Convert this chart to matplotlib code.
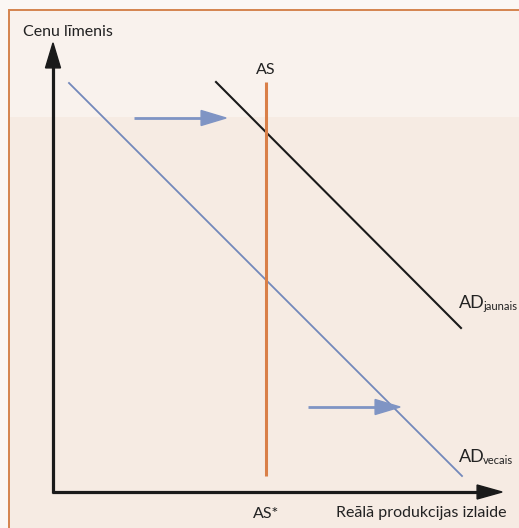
import matplotlib.pyplot as plt
from matplotlib.patches import Rectangle, FancyArrow

plt.rcParams['font.family'] = ['Lato', 'DejaVu Sans']

# curve endpoints (pixel-like coordinates, y grows downward)
ad_old_x = [69, 462]
ad_old_y = [83, 476]
ad_new_x = [216, 461]
ad_new_y = [82, 328]
as_x = [266, 266]
as_y = [82, 476]

# shift arrows: start x, end x, y
shift_arrows = [(134, 226, 118), (308, 400, 407)]

axis_origin = (53, 492)
axis_x_end = 502
axis_y_end = 43

fig = plt.figure(figsize=(5.19, 5.28), dpi=100)
ax = fig.add_axes([0, 0, 1, 1])
ax.set_xlim(0, 519)
ax.set_ylim(528, 0)
ax.axis('off')

# background panel
ax.add_patch(Rectangle((0, 0), 519, 528, color='#fbf7f4', zorder=0))
ax.add_patch(Rectangle((9, 10), 520, 530, facecolor='#f9f2ed', edgecolor='#d4844e',
                       lw=1.4, zorder=1))
ax.add_patch(Rectangle((10, 117), 520, 420, facecolor='#f6ebe3', edgecolor='none',
                       zorder=1))

# axes with arrowheads
ox, oy = axis_origin
ax.plot([ox, ox], [oy + 1, axis_y_end + 24], color='#1a1a1a', lw=2.3, zorder=3,
        solid_capstyle='butt')
ax.plot([ox - 1, axis_x_end - 24], [oy, oy], color='#1a1a1a', lw=2.3, zorder=3,
        solid_capstyle='butt')
ax.add_patch(FancyArrow(ox, axis_y_end + 25, 0, -0.1, width=0, head_width=15,
                        head_length=25, color='#1a1a1a', zorder=4))
ax.add_patch(FancyArrow(axis_x_end - 25, oy, 0.1, 0, width=0, head_width=14,
                        head_length=25, color='#1a1a1a', zorder=4))

# curves
ax.plot(ad_old_x, ad_old_y, color='#7388bb', lw=1.3, zorder=3)
ax.plot(ad_new_x, ad_new_y, color='#1a1a1a', lw=1.5, zorder=3)
ax.plot(as_x, as_y, color='#d97f48', lw=2.2, zorder=3, solid_capstyle='butt')

# shift arrows
for x0, x1, y in shift_arrows:
    ax.plot([x0, x1 - 24], [y, y], color='#7f94c4', lw=2.0, zorder=3,
            solid_capstyle='butt')
    ax.add_patch(FancyArrow(x1 - 25, y, 0.1, 0, width=0, head_width=15,
                            head_length=25, color='#7f94c4', zorder=4))

# labels
txt = '#222222'
ax.text(23, 32, 'Cenu līmenis', fontsize=11.5, color=txt, va='center', ha='left')
ax.text(507, 513, 'Reālā produkcijas izlaide', fontsize=11.5, color=txt,
        va='center', ha='right')
ax.text(266, 70, 'AS', fontsize=11.5, color=txt, va='center', ha='center')
ax.text(266, 514, 'AS*', fontsize=11.5, color=txt, va='center', ha='center')
ax.text(459, 303, 'AD', fontsize=13, color=txt, va='center', ha='left')
ax.text(483, 307, 'jaunais', fontsize=8, color=txt, va='center', ha='left')
ax.text(459, 457, 'AD', fontsize=13, color=txt, va='center', ha='left')
ax.text(483, 461, 'vecais', fontsize=8, color=txt, va='center', ha='left')

fig.savefig('out.png', dpi=100)
